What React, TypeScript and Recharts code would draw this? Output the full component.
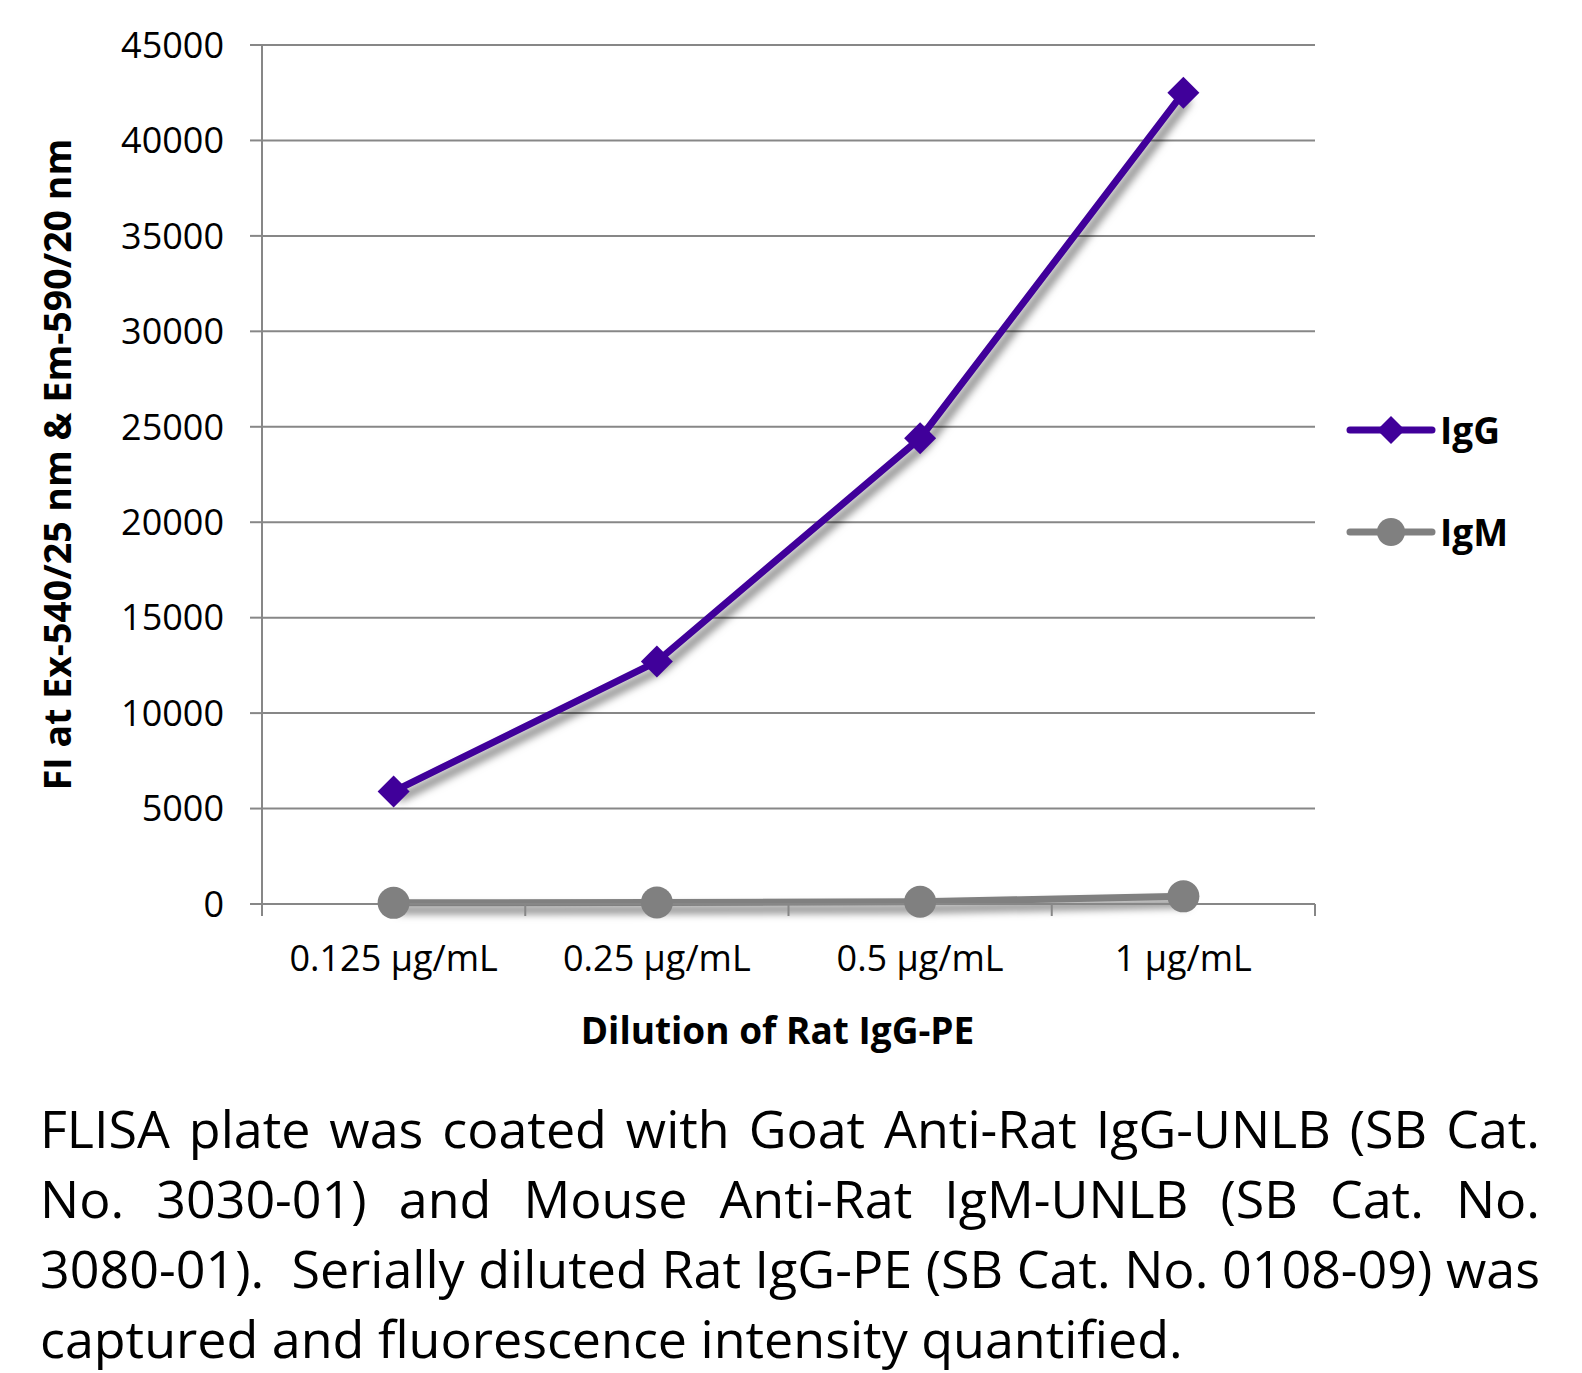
import React from "react";
import { LineChart, Line, XAxis, YAxis, CartesianGrid } from "recharts";

const categories = ["0.125 µg/mL", "0.25 µg/mL", "0.5 µg/mL", "1 µg/mL"];
const igGValues = [5900, 12700, 24400, 42500];
const igMValues = [60, 80, 120, 400];
const yTicks = [0, 5000, 10000, 15000, 20000, 25000, 30000, 35000, 40000, 45000];
const boundaryTicks = [0, 1, 2, 3, 4];

const seriesNames = ["IgG", "IgM"];
const seriesColors = ["#40009A", "#808080"];

const captionLines = [
  "FLISA plate was coated with Goat Anti-Rat IgG-UNLB (SB Cat.",
  "No. 3030-01) and Mouse Anti-Rat IgM-UNLB (SB Cat. No.",
  "3080-01).\u00a0 Serially diluted Rat IgG-PE (SB Cat. No. 0108-09) was",
  "captured and fluorescence intensity quantified.",
];

// slot = category centre on the boundary-tick axis (0..4)
const data = categories.map((c, i) => ({
  dilution: c,
  slot: i + 0.5,
  IgG: igGValues[i],
  IgM: igMValues[i],
}));

const FONT = "'Open Sans', sans-serif";
const GRID = "#878787";

// diamond marker for IgG
function Diamond(props: any) {
  const { cx, cy, key } = props;
  if (cx == null || cy == null) return null;
  const r = 16;
  return (
    <polygon
      key={key}
      points={`${cx},${cy - r} ${cx + r},${cy} ${cx},${cy + r} ${cx - r},${cy}`}
      fill={seriesColors[0]}
    />
  );
}

function Dot(props: any) {
  const { cx, cy, key } = props;
  if (cx == null || cy == null) return null;
  return <circle key={key} cx={cx} cy={cy} r={16} fill={seriesColors[1]} />;
}

// boundary tick axis: tick marks only, no labels
const NoLabel = () => <g />;

function YTitle(props: any) {
  const vb = props.viewBox || { y: 45, height: 859 };
  const cy = vb.y + vb.height / 2 - 10;
  return (
    <text
      x={56}
      y={cy}
      transform={`rotate(-90, 56, ${cy})`}
      textAnchor="middle"
      dominantBaseline="central"
      fontFamily={FONT}
      fontWeight={700}
      fontSize={37.5}
      fill="#000"
    >
      FI at Ex-540/25 nm &amp; Em-590/20 nm
    </text>
  );
}

function LegendItem({ idx, top }: { idx: number; top: number }) {
  const color = seriesColors[idx];
  return (
    <div
      style={{
        position: "absolute",
        left: 1346,
        top: top - 20,
        height: 40,
        display: "flex",
        alignItems: "center",
      }}
    >
      <svg width={90} height={40}>
        <line x1={4} y1={20} x2={86} y2={20} stroke={color} strokeWidth={7} strokeLinecap="round" />
        {idx === 0 ? (
          <polygon points="45,6 59,20 45,34 31,20" fill={color} />
        ) : (
          <circle cx={45} cy={20} r={14} fill={color} />
        )}
      </svg>
      <span
        style={{
          fontFamily: FONT,
          fontWeight: 700,
          fontSize: 37,
          color: "#000",
          marginLeft: 4,
          lineHeight: "40px",
        }}
      >
        {seriesNames[idx]}
      </span>
    </div>
  );
}

export default function App() {
  return (
    <div
      style={{
        position: "absolute",
        left: 0,
        top: 0,
        width: 1582,
        height: 1373,
        background: "#fff",
        overflow: "hidden",
      }}
    >
      <style>{`.recharts-line { filter: drop-shadow(5px 7px 4px rgba(0,0,0,0.55)); }`}</style>
      <LineChart
        width={1582}
        height={1070}
        data={data}
        margin={{ top: 45, right: 267, left: 12, bottom: 0 }}
      >
        <CartesianGrid
          xAxisId="cat"
          yAxisId="y"
          horizontal
          vertical={false}
          stroke={GRID}
          strokeWidth={2}
        />
        <XAxis
          xAxisId="axisTicks"
          dataKey="slot"
          type="number"
          domain={[0, 4]}
          allowDataOverflow
          ticks={boundaryTicks}
          interval={0}
          height={1}
          tick={<NoLabel />}
          tickSize={12}
          axisLine={{ stroke: GRID, strokeWidth: 2 }}
          tickLine={{ stroke: GRID, strokeWidth: 2 }}
        />
        <XAxis
          xAxisId="cat"
          dataKey="dilution"
          scale="band"
          height={165}
          interval={0}
          axisLine={false}
          tickLine={false}
          tickSize={0}
          tickMargin={40}
          tick={{ fill: "#000", fontSize: 36, fontFamily: FONT }}
          label={{
            value: "Dilution of Rat IgG-PE",
            position: "insideBottom",
            offset: 26,
            dx: -11,
            fill: "#000",
            fontSize: 37,
            fontWeight: 700,
            fontFamily: FONT,
          }}
        />
        <YAxis
          yAxisId="y"
          width={250}
          domain={[0, 45000]}
          ticks={yTicks}
          interval={0}
          tickSize={12}
          tickMargin={26}
          axisLine={{ stroke: GRID, strokeWidth: 2 }}
          tickLine={{ stroke: GRID, strokeWidth: 2 }}
          tick={{ fill: "#000", fontSize: 36, fontFamily: FONT }}
          label={{ content: <YTitle /> }}
        />
        <Line
          xAxisId="cat"
          yAxisId="y"
          dataKey="IgM"
          stroke={seriesColors[1]}
          strokeWidth={7}
          dot={<Dot />}
          activeDot={false}
          isAnimationActive={false}
        />
        <Line
          xAxisId="cat"
          yAxisId="y"
          dataKey="IgG"
          stroke={seriesColors[0]}
          strokeWidth={7}
          dot={<Diamond />}
          activeDot={false}
          isAnimationActive={false}
        />
      </LineChart>
      <LegendItem idx={0} top={430} />
      <LegendItem idx={1} top={532} />
      <div
        style={{
          position: "absolute",
          left: 40,
          top: 1093,
          width: 1500,
          fontFamily: FONT,
          fontSize: 52,
          lineHeight: "70px",
          color: "#000",
        }}
      >
        {captionLines.map((line, i) => (
          <div
            key={i}
            style={{
              textAlign: i < captionLines.length - 1 ? "justify" : "left",
              textAlignLast: i < captionLines.length - 1 ? "justify" : "left",
              whiteSpace: "nowrap",
            }}
          >
            {line}
          </div>
        ))}
      </div>
    </div>
  );
}
